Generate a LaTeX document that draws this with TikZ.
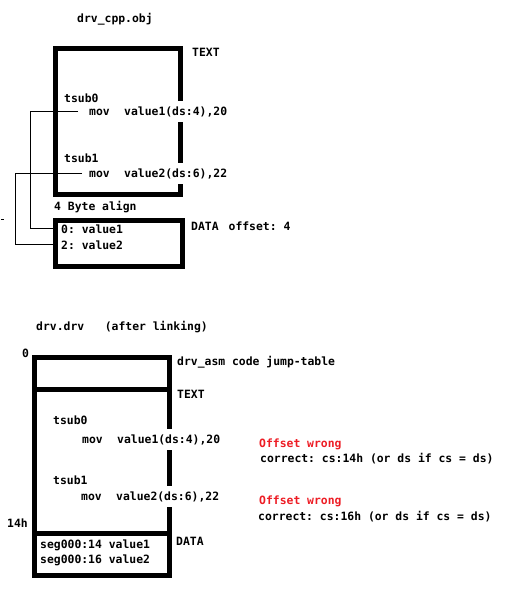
\documentclass[tikz,border=0pt]{standalone}
\usepackage{fontspec}
\usepackage{xcolor}
\newfontfamily\consfont{DejaVu Sans Mono}
\definecolor{wrongred}{RGB}{237,28,36}
\frenchspacing
\tikzset{lbl/.style={anchor=base west,inner sep=0pt,font=\consfont\bfseries\fontsize{11.4}{13}\selectfont},
cut/.style={lbl,fill=white,inner ysep=5pt},
seg/.style={line width=5pt},
link/.style={line width=0.8pt}}

\begin{document}
\begin{tikzpicture}[x=1pt,y=-1pt]
\useasboundingbox (0,0) rectangle (505,597);
\draw[seg](55.5,48.5) rectangle (180.5,194);
\draw[seg](55.5,220) rectangle (182.5,266);
\node[lbl](objname) at (77,22){drv\_cpp.obj};
\node[lbl](textA) at (192,56){TEXT};
\node[lbl](tsubA0) at (64,102){tsub0};
\node[lbl](movA0) at (89,115){mov};
\node[cut](valA0) at (124,115){value1(ds:4),20};
\node[lbl](tsubA1) at (64,162){tsub1};
\node[lbl](movA1) at (89,177){mov};
\node[cut](valA1) at (124,177){value2(ds:6),22};
\node[lbl](align) at (54,210){4 Byte align};
\node[lbl](dataA) at (191,230){DATA\hspace{10pt}offset: 4};
\node[lbl](dat0) at (61,233){0: value1};
\node[lbl](dat1) at (61,249){2: value2};
\draw[link]([xshift=-11pt]movA0.west) -- ++(-48,0) |- ([xshift=-8pt]dat0.west);
\draw[link]([xshift=-7pt]movA1.west) -- ++(-67,0) |- ([xshift=-3pt]dat1.west);
\coordinate (stub) at (1,219);
\draw[link](stub) -- ++(2.5,0);

\draw[seg](34.5,357) rectangle (169.5,575.5);
\draw[seg](34.5,389.5) -- (169.5,389.5);
\draw[seg](34.5,533.5) -- (169.5,533.5);
\node[lbl](drvname) at (36,330){drv.drv\ \ \ (after linking)};
\node[lbl](zero) at (22,357){0};
\node[lbl](jump) at (177,365){drv\_asm code jump-table};
\node[lbl](textB) at (177,398){TEXT};
\node[lbl](tsubB0) at (53,424){tsub0};
\node[lbl](movB0) at (82,443){mov};
\node[cut](valB0) at (117,443){value1(ds:4),20};
\node[lbl](tsubB1) at (53,484){tsub1};
\node[lbl](movB1) at (81,500){mov};
\node[cut](valB1) at (116,500){value2(ds:6),22};
\node[lbl](hex14) at (7,527){14h};
\node[lbl](dataB) at (176,545){DATA};
\node[lbl](seg14) at (40,548){seg000:14 value1};
\node[lbl](seg16) at (40,563){seg000:16 value2};
\node[lbl,text=wrongred](wrong0) at (259,447){Offset wrong};
\node[lbl](fix0) at (260,462){correct: cs:14h (or ds if cs = ds)};
\node[lbl,text=wrongred](wrong1) at (259,504){Offset wrong};
\node[lbl](fix1) at (258,520){correct: cs:16h (or ds if cs = ds)};
\end{tikzpicture}
\end{document}
